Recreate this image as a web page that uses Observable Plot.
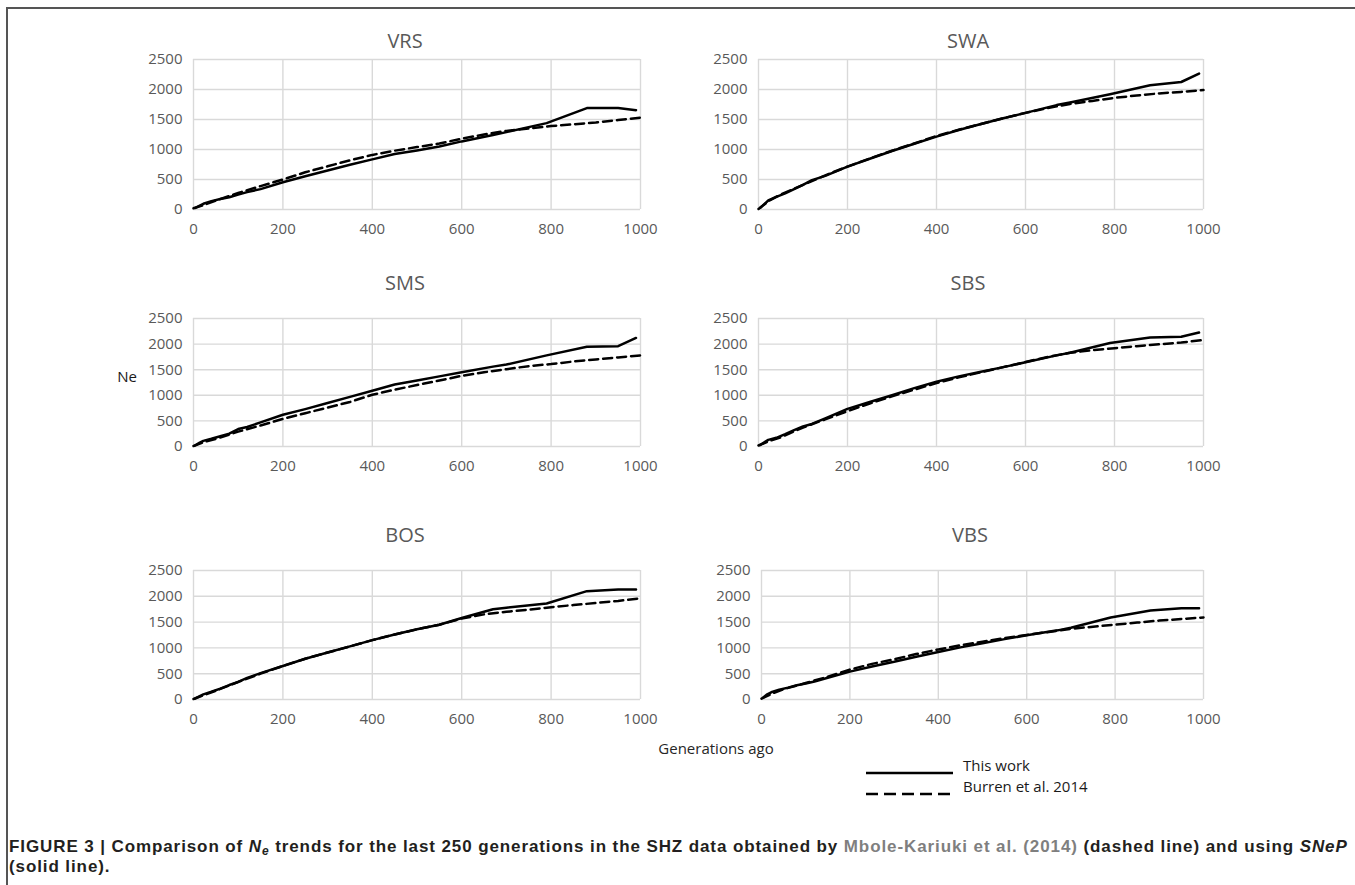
<!DOCTYPE html>
<html><head><meta charset="utf-8">
<script src="https://cdn.jsdelivr.net/npm/d3@7"></script>
<script src="https://cdn.jsdelivr.net/npm/@observablehq/plot@0.6"></script>
<style>
html,body{margin:0;padding:0;background:#fff;}
#fig{position:relative;width:1355px;height:885px;overflow:hidden;font-family:"Open Sans",sans-serif;background:#fff;}
.abs{position:absolute;white-space:nowrap;}
.c{transform:translate(-50%,-50%);}
.title{font-size:20px;color:#595959;}
.cap{font-family:"Liberation Sans",Arial,sans-serif;font-weight:bold;font-size:17px;letter-spacing:0.9px;color:#231f20;left:9px;}
.cap .ref{color:#7f7f7f;}
svg{overflow:visible;}
</style></head><body><div id="fig"></div><script>
// ---------------- data ----------------
const breeds = ["VRS", "SWA", "SMS", "SBS", "BOS", "VBS"];
const genThisWork = [4, 13, 22, 40, 60, 80, 100, 120, 150, 200, 250, 300, 350, 400, 450, 500, 550, 600, 670, 700, 790, 880, 950, 990];
const genBurren = [0, 25, 50, 100, 150, 200, 250, 300, 350, 400, 450, 500, 550, 600, 650, 700, 750, 800, 850, 900, 950, 1000];

const thisWorkVRS = [25, 60, 95, 140, 175, 205, 250, 290, 340, 455, 555, 650, 745, 835, 925, 985, 1050, 1135, 1240, 1290, 1440, 1690, 1690, 1655];
const burrenVRS   = [20, 80, 150, 275, 390, 500, 620, 720, 820, 910, 980, 1040, 1100, 1180, 1250, 1310, 1350, 1390, 1420, 1450, 1490, 1530];

const thisWorkSWA = [30, 90, 150, 210, 270, 340, 410, 490, 560, 715, 845, 975, 1095, 1215, 1325, 1425, 1520, 1610, 1740, 1785, 1920, 2070, 2125, 2265];
const burrenSWA   = [10, 150, 250, 410, 570, 715, 850, 980, 1100, 1225, 1330, 1425, 1520, 1610, 1690, 1760, 1810, 1860, 1900, 1935, 1960, 1990];

const thisWorkSMS = [25, 70, 110, 150, 200, 250, 340, 380, 470, 620, 730, 850, 970, 1090, 1210, 1290, 1370, 1450, 1560, 1600, 1780, 1950, 1960, 2120];
const burrenSMS   = [10, 90, 150, 290, 410, 540, 650, 760, 870, 1010, 1110, 1200, 1290, 1380, 1450, 1510, 1570, 1610, 1660, 1700, 1740, 1780];

const thisWorkSBS = [30, 80, 130, 170, 240, 320, 390, 440, 550, 735, 870, 1000, 1140, 1265, 1370, 1460, 1550, 1645, 1780, 1830, 2020, 2130, 2145, 2225];
const burrenSBS   = [20, 110, 180, 370, 530, 690, 840, 980, 1110, 1240, 1350, 1450, 1550, 1650, 1750, 1830, 1880, 1920, 1960, 1995, 2030, 2080];

const thisWorkBOS = [20, 60, 100, 150, 210, 280, 340, 420, 510, 650, 790, 910, 1030, 1150, 1260, 1360, 1450, 1580, 1750, 1780, 1860, 2100, 2130, 2130];
const burrenBOS   = [10, 90, 170, 340, 500, 650, 790, 910, 1030, 1150, 1260, 1360, 1450, 1570, 1650, 1700, 1740, 1790, 1830, 1870, 1910, 1960];

const thisWorkVBS = [40, 100, 140, 190, 230, 275, 310, 350, 420, 540, 640, 730, 830, 920, 1010, 1090, 1170, 1245, 1340, 1390, 1590, 1725, 1770, 1770];
const burrenVBS   = [15, 120, 200, 320, 440, 580, 690, 780, 880, 970, 1050, 1120, 1190, 1250, 1310, 1370, 1410, 1450, 1490, 1530, 1560, 1590];

const xTicks = [0, 200, 400, 600, 800, 1000];
const yTicks = [0, 500, 1000, 1500, 2000, 2500];
const seriesNames = ["This work", "Burren et al. 2014"];
const xAxisLabel = "Generations ago";
const yAxisLabel = "Ne";

// ---------------- layout ----------------
const thisWork = {VRS: thisWorkVRS, SWA: thisWorkSWA, SMS: thisWorkSMS, SBS: thisWorkSBS, BOS: thisWorkBOS, VBS: thisWorkVBS};
const burren = {VRS: burrenVRS, SWA: burrenSWA, SMS: burrenSMS, SBS: burrenSBS, BOS: burrenBOS, VBS: burrenVBS};
const boxes = {
  VRS: {x: 193, y: 59,  w: 447, h: 150, tx: 405, ty: 40},
  SWA: {x: 758, y: 59,  w: 445, h: 150, tx: 968, ty: 40},
  SMS: {x: 193, y: 318, w: 447, h: 128, tx: 405, ty: 282},
  SBS: {x: 758, y: 318, w: 445, h: 128, tx: 968, ty: 282},
  BOS: {x: 193, y: 570, w: 447, h: 129, tx: 405, ty: 534},
  VBS: {x: 761, y: 570, w: 442, h: 129, tx: 970, ty: 534}
};
const fig = document.getElementById("fig");
const mL = 60, mR = 30, mT = 8, mB = 36;
const fmt = d3.format("d");

function addDiv(cls, x, y, html, extra) {
  const d = document.createElement("div");
  d.className = "abs " + cls;
  d.style.left = x + "px"; d.style.top = y + "px";
  if (extra) Object.assign(d.style, extra);
  d.innerHTML = html;
  fig.appendChild(d);
  return d;
}

for (const b of breeds) {
  const box = boxes[b];
  const tw = genThisWork.map((g, i) => ({gen: g, ne: thisWork[b][i]}));
  const bu = genBurren.map((g, i) => ({gen: g, ne: burren[b][i]}));
  const svg = Plot.plot({
    width: box.w + mL + mR, height: box.h + mT + mB,
    marginLeft: mL, marginRight: mR, marginTop: mT, marginBottom: mB,
    style: {fontFamily: '"Open Sans", sans-serif', fontSize: "15px", color: "#595959", background: "transparent", overflow: "visible"},
    x: {domain: [0, 1000], ticks: xTicks, tickFormat: fmt, label: null, tickSize: 0, tickPadding: 14},
    y: {domain: [0, 2500], ticks: yTicks, tickFormat: fmt, label: null, tickSize: 0, tickPadding: 11},
    marks: [
      Plot.gridX(xTicks, {stroke: "#d9d9d9", strokeOpacity: 1, strokeWidth: 1.4}),
      Plot.gridY(yTicks, {stroke: "#d9d9d9", strokeOpacity: 1, strokeWidth: 1.4}),
      Plot.line(bu, {x: "gen", y: "ne", stroke: "#000", strokeWidth: 2.5, strokeDasharray: "9,5"}),
      Plot.line(tw, {x: "gen", y: "ne", stroke: "#000", strokeWidth: 2.5})
    ]
  });
  const holder = document.createElement("div");
  holder.className = "abs";
  holder.style.left = (box.x - mL) + "px";
  holder.style.top = (box.y - mT) + "px";
  holder.appendChild(svg);
  fig.appendChild(holder);
  addDiv("c title", box.tx, box.ty, b);
}

// axis labels
addDiv("c", 127, 376, yAxisLabel, {fontSize: "15px", color: "#1a1a1a"});
addDiv("c", 716, 748, xAxisLabel, {fontSize: "15px", color: "#262626"});

// legend
const legendY = [766, 787];
const dash = ["", "12,6"];
seriesNames.forEach((s, i) => {
  addDiv("", 866, legendY[i] - 5,
    `<svg width="88" height="10"><line x1="0" x2="87" y1="5" y2="5" stroke="#000" stroke-width="2.5" ${dash[i] ? `stroke-dasharray="${dash[i]}"` : ""}/></svg>`);
  addDiv("", 963, legendY[i] - 11, s, {fontSize: "15px", color: "#1a1a1a", lineHeight: "20px"});
});

// frame
addDiv("", 6, 7, "", {width: "1349px", height: "0px", borderTop: "2px solid #555"});
addDiv("", 6, 7, "", {width: "0px", height: "878px", borderLeft: "2px solid #555"});

// caption
addDiv("cap", 9, 837, 'FIGURE 3 | Comparison of <i>N</i><sub style="font-size:12px;vertical-align:-3px"><i>e</i></sub> trends for the last 250 generations in the SHZ data obtained by <span class="ref">Mbole-Kariuki et al. (2014)</span> (dashed line) and using <i>SNeP</i>', {lineHeight: "20px"});
addDiv("cap", 9, 857, '(solid line).', {lineHeight: "20px"});
</script></body></html>
